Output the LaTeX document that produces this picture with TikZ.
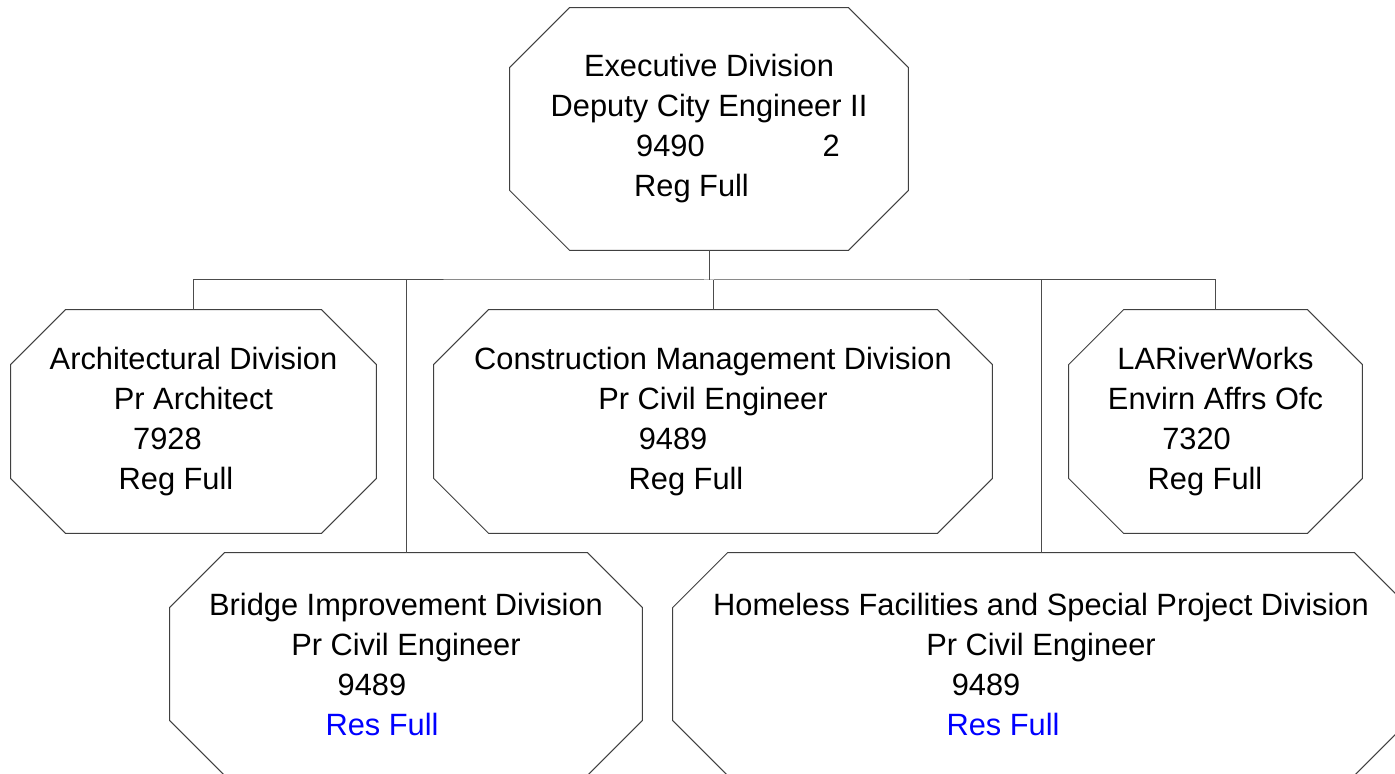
\documentclass[tikz,border=0pt]{standalone}
\usepackage{fontspec}
\setmainfont{Liberation Sans}

% move one line of a centred node text sideways
\newcommand{\offline}[2]{\kern#1\relax#2\kern-#1\relax}

\begin{document}
\begin{tikzpicture}[
	x=0.5pt, y=-0.5pt,
	divnode/.style={rectangle, inner sep=0pt, align=center, minimum height=111.5pt,
		font=\fontsize{15.4pt}{20pt}\selectfont},
	divline/.style={draw=black!75, line width=0.5pt},
	linkline/.style={draw=black!70, line width=0.5pt}
]
\path[use as bounding box, clip] (0,0) rectangle (1395,774);

% Kopf
\node[divnode, minimum width=199pt, minimum height=121pt] (exec) at (709,129)
	{Executive Division\\Deputy City Engineer II\\
	 \offline{14.5pt}{9490\hspace{59pt}2}\\\offline{-8.75pt}{Reg Full}};

% erste Reihe
\node[divnode, minimum width=182.5pt] (arch) at (193.5,421.5)
	{Architectural Division\\Pr Architect\\
	 \offline{-13pt}{7928}\\\offline{-8.75pt}{Reg Full}};
\node[divnode, minimum width=279pt] (cmd) at (713,421.5)
	{Construction Management Division\\Pr Civil Engineer\\
	 \offline{-20pt}{9489}\\\offline{-13.5pt}{Reg Full}};
\node[divnode, minimum width=146.5pt] (larw) at (1215.5,421.5)
	{LARiverWorks\\Envirn Affrs Ofc\\
	 \offline{-9.5pt}{7320}\\\offline{-5.25pt}{Reg Full}};

% zweite Reihe
\node[divnode, minimum width=236pt, minimum height=111pt] (bridge) at (406,664)
	{Bridge Improvement Division\\Pr Civil Engineer\\
	 \offline{-17pt}{9489}\\\offline{-12pt}{\textcolor{blue}{Res Full}}};
\node[divnode, minimum width=368pt, minimum height=111pt] (homeless) at (1041,664)
	{Homeless Facilities and Special Project Division\\Pr Civil Engineer\\
	 \offline{-27.5pt}{9489}\\\offline{-19pt}{\textcolor{blue}{Res Full}}};

% Achtecke
\foreach \n/\c in {exec/30pt, arch/27.5pt, cmd/27.5pt, larw/27.5pt, bridge/27.5pt, homeless/27.5pt}
	\draw[divline] ([xshift=\c]\n.north west) -- ([xshift=-\c]\n.north east)
		-- ([yshift=-\c]\n.north east) -- ([yshift=\c]\n.south east)
		-- ([xshift=-\c]\n.south east) -- ([xshift=\c]\n.south west)
		-- ([yshift=\c]\n.south west) -- ([yshift=-\c]\n.north west) -- cycle;

% Verbindungen
\coordinate (bus) at (709,280);
\draw[linkline] (exec.south) -- (bus);
\draw[linkline] (arch.north) |- (bus) -| (larw.north);
\draw[linkline] (bridge.north) -- (bridge.north |- bus);
\draw[linkline] (cmd.north) -- (cmd.north |- bus);
\draw[linkline] (homeless.north) -- (homeless.north |- bus);

\end{tikzpicture}
\end{document}
